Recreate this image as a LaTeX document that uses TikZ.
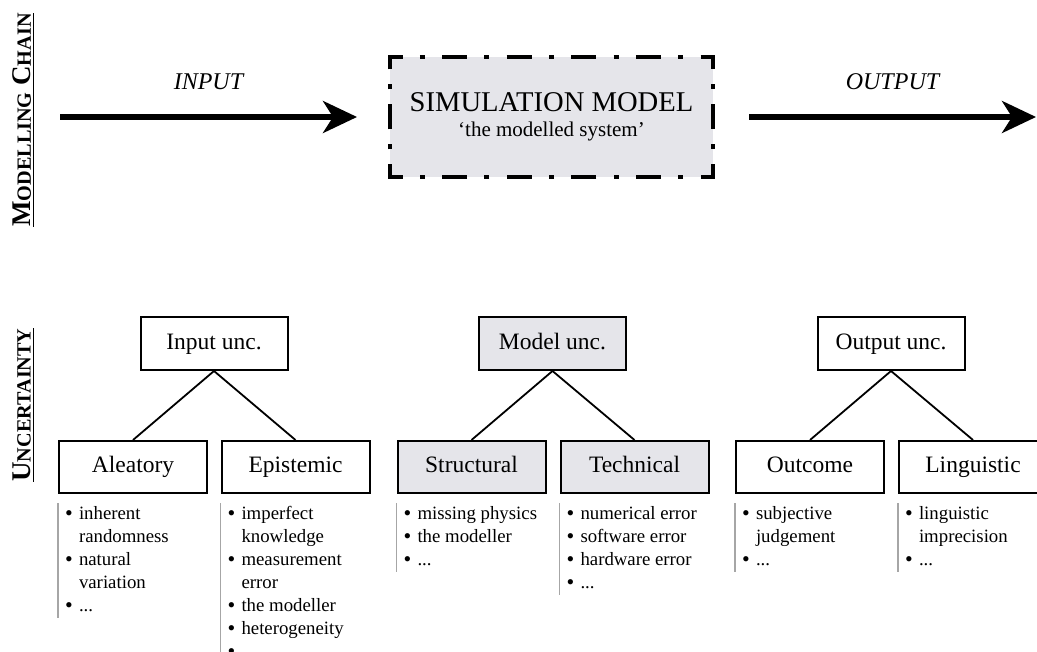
\documentclass[tikz,border=0pt]{standalone}
\usepackage{fontspec}
\setmainfont{Liberation Serif}
\usepackage{xcolor}
\usetikzlibrary{positioning, arrows.meta}

\definecolor{simgray}{RGB}{229,229,234}
\newcommand{\sccap}[1]{{\fontsize{10.1pt}{12pt}\selectfont #1}}
\newcommand{\bul}{\makebox[7pt][l]{\raisebox{-0.5pt}{\fontsize{11pt}{11.5pt}\selectfont\textbullet}}}
\newcommand{\cont}{\hspace*{7pt}}

\tikzset{
  unc/.style={draw, line width=1pt, minimum width=73.5pt, minimum height=26.5pt,
    text height=8.2pt, text depth=2.6pt, font=\fontsize{11.75pt}{14pt}\selectfont},
  subunc/.style={unc, minimum width=74pt, minimum height=26pt},
  shaded/.style={fill=simgray},
  unclist/.style={anchor=north west, inner xsep=3.5pt, inner ysep=0pt, outer sep=0pt,
    font=\fontsize{9.4pt}{11.5pt}\selectfont},
  listbar/.style={draw=black!35, line width=0.6pt},
  treeline/.style={line width=0.9pt},
  flow/.style={line width=2.6pt, -{Stealth[length=17pt, width=16pt, inset=5pt]}},
  flowlabel/.style={font=\fontsize{12pt}{14pt}\selectfont\itshape, inner sep=0pt, above=12.5pt},
  sidelabel/.style={rotate=90, inner sep=0pt, font=\fontsize{13.5pt}{16pt}\selectfont\bfseries},
  simborder/.style={line width=2pt, dash pattern=
    on 1.25pt off 8.65pt on 12.5pt off 8.65pt on 2.5pt off 8.65pt on 12.5pt off 8.65pt on 2.5pt off 8.65pt on 12.5pt
    off 7.5pt on 2.5pt off 7.5pt on 12.5pt off 7.5pt on 2.5pt off 7.5pt on 12.5pt
    off 8.65pt on 2.5pt off 8.65pt on 12.5pt off 8.65pt on 2.5pt off 8.65pt on 12.5pt
    off 8.65pt on 2.5pt off 8.65pt on 12.5pt off 8.65pt on 2.5pt off 8.65pt on 12.5pt
    off 8.65pt on 2.5pt off 8.65pt on 12.5pt
    off 7.5pt on 2.5pt off 7.5pt on 12.5pt off 7.5pt on 2.5pt off 7.5pt on 12.5pt
    off 8.65pt on 2.5pt off 8.65pt on 12.5pt off 8.65pt on 2.5pt off 8.65pt on 12.5pt off 8.65pt on 1.25pt}
}

\begin{document}
\begin{tikzpicture}[x=0.5pt, y=-0.5pt, >=Stealth]
    \useasboundingbox (0,0) rectangle (1037,652);

    % Side labels
    \node[sidelabel] (chainlbl) at (24,120) {\underline{M\sccap{ODELLING} C\sccap{HAIN}}};
    \node[sidelabel] (unclbl)   at (24,405) {\underline{U\sccap{NCERTAINTY}}};

    % Modelling chain
    \node[fill=simgray, outer sep=0pt, minimum width=161.5pt, minimum height=60pt,
          align=center, font=\fontsize{10.5pt}{12.4pt}\selectfont] (sim) at (551.5,117)
      {{\fontsize{14.3pt}{12.4pt}\selectfont SIMULATION MODEL}\\`the modelled system'};
    \draw[simborder] (sim.north) -- (sim.north east) -- (sim.south east)
      -- (sim.south west) -- (sim.north west) -- cycle;

    \coordinate (inbeg)  at (60,117);
    \coordinate (outend) at (1036,117);
    \draw[flow] (inbeg) -- node[flowlabel] {INPUT} ([xshift=-16.5pt]sim.west);
    \draw[flow] ([xshift=18pt]sim.east) -- node[flowlabel] {OUTPUT} (outend);

    % Uncertainty tree
    \node[unc]                                  (inunc)  at (214,343.5) {Input unc.};
    \node[unc, shaded, on grid, right=169.25pt of inunc] (modunc) {Model unc.};
    \node[unc, on grid, right=169.25pt of modunc]        (outunc) {Output unc.};

    \node[subunc, on grid, below left=61.75pt and 40.5pt of inunc]          (alea)  {Aleatory};
    \node[subunc, on grid, below right=61.75pt and 40.75pt of inunc]        (epis)  {Epistemic};
    \node[subunc, shaded, on grid, below left=61.75pt and 40.5pt of modunc] (struc) {Structural};
    \node[subunc, shaded, on grid, below right=61.75pt and 41pt of modunc]  (tech)  {Technical};
    \node[subunc, on grid, below left=61.75pt and 40.5pt of outunc]         (outc)  {Outcome};
    \node[subunc, on grid, below right=61.75pt and 41pt of outunc]          (ling)  {Linguistic};

    \path[treeline]
      (inunc.south)  edge (alea.north)
      (inunc.south)  edge (epis.north)
      (modunc.south) edge (struc.north)
      (modunc.south) edge (tech.north)
      (outunc.south) edge (outc.north)
      (outunc.south) edge (ling.north);

    % Source lists
    \node[unclist] (alealist) at ([yshift=-4.5pt]alea.south west)
      {\begin{tabular}{@{}l@{}}\bul inherent\\\cont randomness\\\bul natural\\\cont variation\\\bul ...\end{tabular}};
    \node[unclist] (epislist) at ([yshift=-4.5pt]epis.south west)
      {\begin{tabular}{@{}l@{}}\bul imperfect\\\cont knowledge\\\bul measurement\\\cont error\\\bul the modeller\\\bul heterogeneity\\\bul\end{tabular}};
    \node[unclist] (struclist) at ([yshift=-4.5pt]struc.south west)
      {\begin{tabular}{@{}l@{}}\bul missing physics\\\bul the modeller\\\bul ...\end{tabular}};
    \node[unclist] (techlist) at ([yshift=-4.5pt]tech.south west)
      {\begin{tabular}{@{}l@{}}\bul numerical error\\\bul software error\\\bul hardware error\\\bul ...\end{tabular}};
    \node[unclist] (outclist) at ([yshift=-4.5pt]outc.south west)
      {\begin{tabular}{@{}l@{}}\bul subjective\\\cont judgement\\\bul ...\end{tabular}};
    \node[unclist] (linglist) at ([yshift=-4.5pt]ling.south west)
      {\begin{tabular}{@{}l@{}}\bul linguistic\\\cont imprecision\\\bul ...\end{tabular}};

    \draw[listbar] (alealist.north west)  -- (alealist.south west);
    \draw[listbar] (epislist.north west)  -- (epislist.south west);
    \draw[listbar] (struclist.north west) -- (struclist.south west);
    \draw[listbar] (techlist.north west)  -- (techlist.south west);
    \draw[listbar] (outclist.north west)  -- (outclist.south west);
    \draw[listbar] (linglist.north west)  -- (linglist.south west);
\end{tikzpicture}
\end{document}
